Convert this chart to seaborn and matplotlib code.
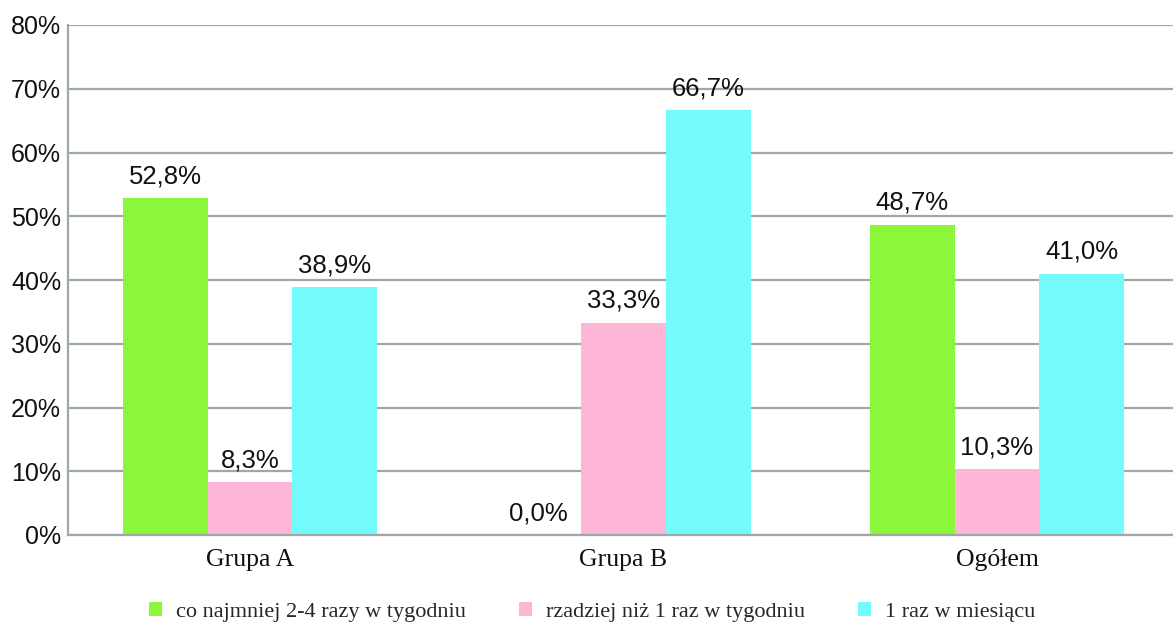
import matplotlib
matplotlib.use("Agg")
import matplotlib.pyplot as plt
import seaborn as sns
import pandas as pd
from matplotlib.patches import Patch

# Data
categories = ["Grupa A", "Grupa B", "Ogółem"]
series_names = [
    "co najmniej 2-4 razy w tygodniu",
    "rzadziej niż 1 raz w tygodniu",
    "1 raz w miesiącu",
]
values_weekly = [52.8, 0.0, 48.7]
values_rarely = [8.3, 33.3, 10.3]
values_monthly = [38.9, 66.7, 41.0]
y_ticks = [0, 10, 20, 30, 40, 50, 60, 70, 80]

colors = ["#8cf73a", "#fdb6d6", "#74fcfc"]
grid_color = "#9ea8a8"

rows = []
for name, vals in zip(series_names, [values_weekly, values_rarely, values_monthly]):
    for cat, v in zip(categories, vals):
        rows.append({"kategoria": cat, "seria": name, "wartosc": v})
df = pd.DataFrame(rows)

sns.set_theme(style="white")
plt.rcParams["font.family"] = ["Liberation Sans", "DejaVu Sans"]

fig = plt.figure(figsize=(11.73, 6.32), dpi=100)
ax = fig.add_axes([68 / 1173, 1 - 535 / 632, 1 - 68 / 1173, (535 - 25) / 632])

sns.barplot(
    data=df, x="kategoria", y="wartosc", hue="seria",
    order=categories, hue_order=series_names,
    palette=colors, width=0.68, gap=0, saturation=1,
    linewidth=0, ax=ax, legend=False,
)

# value labels with decimal comma
for cont, vals in zip(ax.containers, [values_weekly, values_rarely, values_monthly]):
    labels = [f"{v:.1f}".replace(".", ",") + "%" for v in vals]
    ax.bar_label(cont, labels=labels, padding=7, fontsize=18.5,
                 family=["Liberation Sans", "DejaVu Sans"], color="#111111")

ax.set_ylim(0, 80)
ax.set_xlim(-0.487, 2.471)
ax.set_yticks(y_ticks)
ax.set_yticklabels([f"{t}%" for t in y_ticks], fontsize=18,
                   family=["Liberation Sans", "DejaVu Sans"], color="#111111")
ax.set_xticks(range(len(categories)))
ax.set_xticklabels(categories, fontsize=18.5,
                   family=["Liberation Serif", "DejaVu Serif"], color="#111111")
ax.tick_params(axis="y", length=0, pad=5)
ax.tick_params(axis="x", length=0, pad=10)
ax.set_xlabel("")
ax.set_ylabel("")

ax.yaxis.grid(True, color=grid_color, linewidth=1.6)
ax.set_axisbelow(True)
for side in ["top", "right"]:
    ax.spines[side].set_visible(False)
ax.spines["left"].set_color(grid_color)
ax.spines["left"].set_linewidth(1.6)
ax.spines["bottom"].set_color(grid_color)
ax.spines["bottom"].set_linewidth(1.6)

handles = [Patch(facecolor=c, edgecolor="none") for c in colors]
fig.legend(
    handles, series_names, loc="center", bbox_to_anchor=(592 / 1173, 1 - 612 / 632),
    ncol=3, frameon=False, handlelength=0.6, handleheight=0.6,
    handletextpad=0.6, columnspacing=2.4,
    prop={"family": ["Liberation Serif", "DejaVu Serif"], "size": 16},
)

fig.savefig("out.png", dpi=100, facecolor="white")
